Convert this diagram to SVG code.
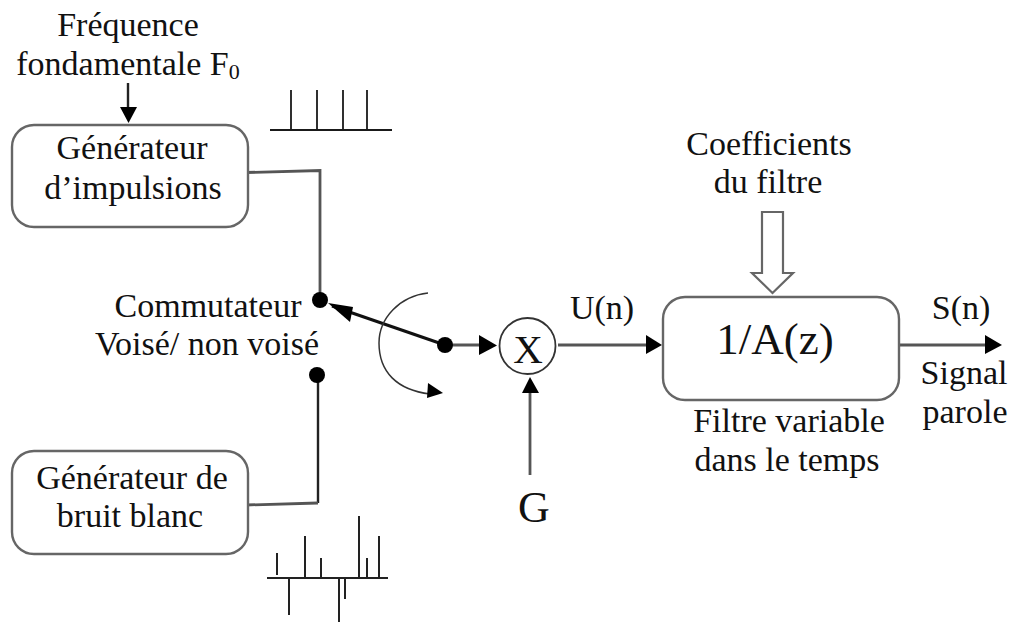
<svg xmlns="http://www.w3.org/2000/svg" width="1014" height="622" viewBox="0 0 1014 622">
<style>
text{font-family:"Liberation Serif","Times New Roman",serif;font-size:34px;fill:#111;text-anchor:middle}
.box{fill:#fff;stroke:#666;stroke-width:2.4}
.ln{fill:none;stroke:#222;stroke-width:2.4}
.g{fill:none;stroke:#555;stroke-width:2.800}
.bk{fill:none;stroke:#1a1a1a;stroke-width:1.800}
.hd{fill:#000;stroke:none}
</style>
<rect width="1014" height="622" fill="#fff"/>
<g id="connectors">
<path class="ln" d="M128 83V112"/><polygon class="hd" points="120,107 137,107 128.500,123"/>
<path class="g" d="M246 172.500L320 170.500V298"/>
<path class="ln" d="M318 380V503"/><path class="g" d="M318 503L246 505"/>
<path d="M445 345L332 306" fill="none" stroke="#111" stroke-width="3"/>
<polygon class="hd" points="328,303 353,307 350,322"/>
<path class="g" d="M445 345H482"/><polygon class="hd" points="479,335 497,345.500 479,355"/>
<path class="g" d="M530 475V392"/><polygon class="hd" points="522,393 530,377 539,393"/>
<path class="g" d="M558 345H650"/><polygon class="hd" points="646,335 662,345 646,354"/>
<path class="g" d="M899 345H988"/><polygon class="hd" points="985,335 1002,345 985,354"/>
<path d="M428 293C400 296 379 318 379 343C379 372 397 390 430 394" fill="none" stroke="#333" stroke-width="1.500"/>
<polygon class="hd" points="428,383 443,393 427,398"/>
<polygon points="762,212 783,212 783,273 793,273 772.500,293 752,273 762,273" fill="#fff" stroke="#666" stroke-width="2.200"/>
</g>
<g id="pulses"><path class="bk" d="M270 130H392M291 90V130M317 90V130M343 90V130M367 90V130"/></g>
<g id="noise"><path d="M267 578H388M277 553V575M289 578V615M305 536V578M321 558V578M339 578V622M345 578V599M359 516V578M367 558V578M379 536V578" fill="none" stroke="#222" stroke-width="2"/></g>
<g id="gen-impulsions"><rect class="box" x="12" y="125" width="236" height="102" rx="22"/><text x="132" y="159">Générateur</text><text x="133" y="199">d’impulsions</text></g>
<g id="gen-bruit"><rect class="box" x="12" y="451" width="236" height="103" rx="22"/><text x="132" y="489">Générateur de</text><text x="130" y="527">bruit blanc</text></g>
<g id="frequence"><text x="128" y="36">Fréquence</text><text x="128" y="75">fondamentale F<tspan style="font-size:22px" dy="4">0</tspan></text></g>
<g id="commutateur"><circle cx="320" cy="300" r="8" fill="#000"/><circle cx="317" cy="375" r="8" fill="#000"/><circle cx="445" cy="345" r="8" fill="#000"/><text x="208" y="317">Commutateur</text><text x="207" y="355">Voisé/ non voisé</text></g>
<g id="mult"><circle cx="527.500" cy="346" r="28" fill="#fff" stroke="#333" stroke-width="1.800"/><text x="528" y="363" style="font-size:41px">X</text></g>
<g id="gain"><text x="534" y="522" style="font-size:44px">G</text></g>
<g id="un"><text x="602" y="319">U(n)</text></g>
<g id="coeff"><text x="769" y="155">Coefficients</text><text x="768" y="193">du filtre</text></g>
<g id="filtre"><rect class="box" x="663" y="297" width="236" height="103" rx="22"/><text x="775" y="354" style="font-size:45px">1/A(z)</text><text x="789" y="432">Filtre variable</text><text x="787" y="471">dans le temps</text></g>
<g id="sortie"><text x="961" y="319">S(n)</text><text x="964" y="384">Signal</text><text x="965" y="423">parole</text></g>
</svg>
